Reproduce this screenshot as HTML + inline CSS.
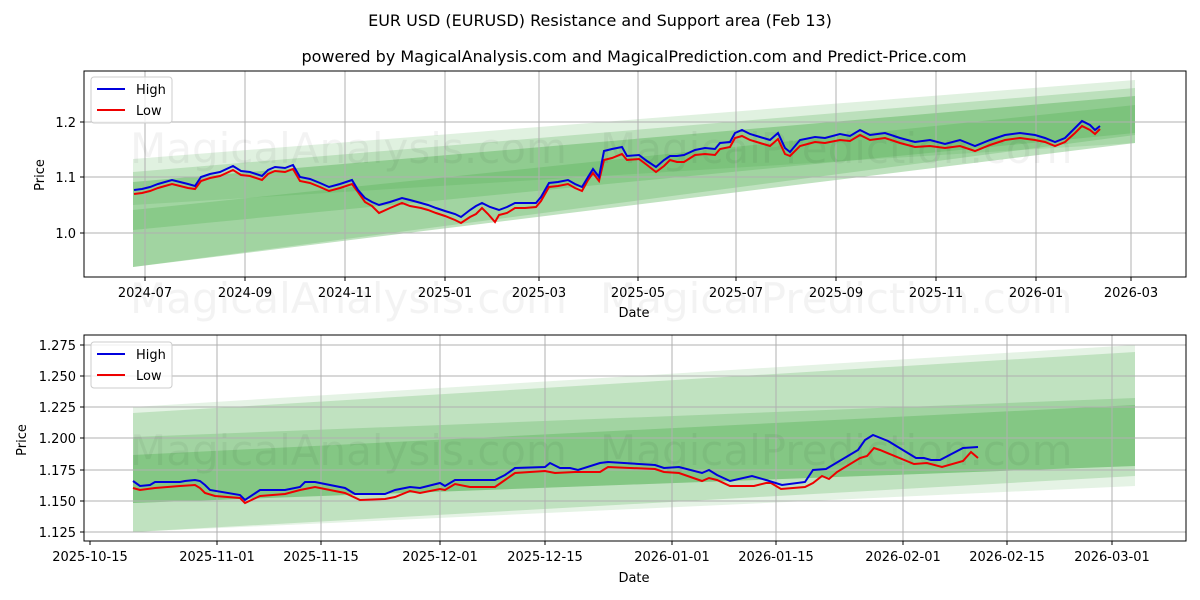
<!DOCTYPE html>
<html><head><meta charset="utf-8"><style>body{margin:0;background:#fff}svg{display:block}text{font-family:"DejaVu Sans","Liberation Sans",sans-serif}</style></head><body>
<svg width="1200" height="600" xmlns="http://www.w3.org/2000/svg">
<rect width="1200" height="600" fill="#fff"/>
<text x="600" y="26" font-size="16" text-anchor="middle">EUR USD (EURUSD) Resistance and Support area (Feb 13)</text>
<text x="634" y="62" font-size="16" text-anchor="middle">powered by MagicalAnalysis.com and MagicalPrediction.com and Predict-Price.com</text>

<!-- TOP CHART -->
<g>
<polygon points="133,159 1135,80 1135,143 133,205" fill="#2ca02c" opacity="0.15"/>
<polygon points="133,172 1135,88 1135,133 133,230" fill="#2ca02c" opacity="0.2"/>
<polygon points="133,182 1135,96 1135,143 133,267" fill="#2ca02c" opacity="0.3"/>
<polygon points="133,210 1135,105 1135,135 133,267" fill="#2ca02c" opacity="0.2"/>
<g stroke="#b0b0b0" stroke-width="1">
<line x1="145" y1="71" x2="145" y2="277"/><line x1="245" y1="71" x2="245" y2="277"/><line x1="345" y1="71" x2="345" y2="277"/><line x1="445" y1="71" x2="445" y2="277"/><line x1="539" y1="71" x2="539" y2="277"/><line x1="638" y1="71" x2="638" y2="277"/><line x1="736" y1="71" x2="736" y2="277"/><line x1="836" y1="71" x2="836" y2="277"/><line x1="936" y1="71" x2="936" y2="277"/><line x1="1036" y1="71" x2="1036" y2="277"/><line x1="1131" y1="71" x2="1131" y2="277"/>
<line x1="84" y1="122" x2="1186" y2="122"/><line x1="84" y1="177" x2="1186" y2="177"/><line x1="84" y1="233" x2="1186" y2="233"/>
</g>
<text x="130" y="163" font-size="42" fill="#000" opacity="0.045">MagicalAnalysis.com</text>
<text x="600" y="163" font-size="42" fill="#000" opacity="0.045">MagicalPrediction.com</text>
<text x="130" y="313" font-size="42" fill="#000" opacity="0.045">MagicalAnalysis.com</text>
<text x="600" y="313" font-size="42" fill="#000" opacity="0.045">MagicalPrediction.com</text>
<polyline fill="none" stroke="#e00" stroke-width="2" points="134,194 142,193 150,191 158,188 165,186 172,184 180,186 188,188 195,189 201,181 210,178 220,176 233,170 241,175 250,176 262,180 268,174 275,171 285,172 293,169 300,181 310,183 320,187 329,191 340,188 352,184 358,192 365,202 372,206 379,213 390,208 402,203 410,206 421,208 428,210 436,213 445,216 455,220 461,223 470,217 476,214 482,208 488,214 495,222 499,215 507,213 515,208 525,208 536,207 541,201 549,187 558,186 568,184 575,188 582,191 588,180 593,173 599,181 604,160 612,158 622,154 627,160 639,159 647,165 656,172 664,166 670,160 677,162 684,162 695,155 705,154 715,155 720,149 730,147 735,138 742,136 750,140 760,143 770,146 778,139 785,154 790,156 800,146 815,142 825,143 840,140 850,141 860,135 870,140 885,138 900,143 915,147 930,146 945,148 960,146 975,151 990,145 1005,140 1020,138 1035,140 1045,142 1055,146 1065,142 1075,133 1082,126 1090,130 1095,134 1100,129"/>
<polyline fill="none" stroke="#0000dd" stroke-width="2" points="134,190 142,189 150,187 158,184 165,182 172,180 180,182 188,184 195,186 201,177 210,174 220,172 233,166 241,171 250,172 262,176 268,170 275,167 285,168 293,165 300,177 310,179 320,183 329,187 340,184 352,180 358,190 365,198 372,202 379,205 390,202 402,198 410,200 421,203 428,205 436,208 445,211 455,214 461,217 470,210 476,206 482,203 490,207 499,210 507,207 515,203 525,203 536,203 541,197 549,183 558,182 568,180 575,184 582,187 588,177 593,169 599,177 604,151 612,149 622,147 627,156 639,155 647,161 656,167 664,160 670,156 677,156 684,155 695,150 705,148 715,149 720,143 730,142 735,133 742,130 750,134 760,137 770,140 778,133 785,148 790,152 800,140 815,137 825,138 840,134 850,136 860,130 870,135 885,133 900,138 915,142 930,140 945,144 960,140 975,146 990,140 1005,135 1020,133 1035,135 1045,138 1055,142 1065,138 1075,128 1082,121 1090,125 1095,130 1100,126"/>
<rect x="84" y="71" width="1102" height="206" fill="none" stroke="#000" stroke-width="1"/>
<g stroke="#000"><line x1="145" y1="277" x2="145" y2="281"/><line x1="245" y1="277" x2="245" y2="281"/><line x1="345" y1="277" x2="345" y2="281"/><line x1="445" y1="277" x2="445" y2="281"/><line x1="539" y1="277" x2="539" y2="281"/><line x1="638" y1="277" x2="638" y2="281"/><line x1="736" y1="277" x2="736" y2="281"/><line x1="836" y1="277" x2="836" y2="281"/><line x1="936" y1="277" x2="936" y2="281"/><line x1="1036" y1="277" x2="1036" y2="281"/><line x1="1131" y1="277" x2="1131" y2="281"/><line x1="80" y1="122" x2="84" y2="122"/><line x1="80" y1="177" x2="84" y2="177"/><line x1="80" y1="233" x2="84" y2="233"/></g>
<g font-size="13" text-anchor="middle"><text x="145" y="297">2024-07</text><text x="245" y="297">2024-09</text><text x="345" y="297">2024-11</text><text x="445" y="297">2025-01</text><text x="539" y="297">2025-03</text><text x="638" y="297">2025-05</text><text x="736" y="297">2025-07</text><text x="836" y="297">2025-09</text><text x="936" y="297">2025-11</text><text x="1036" y="297">2026-01</text><text x="1131" y="297">2026-03</text></g>
<g font-size="13" text-anchor="end"><text x="76" y="127">1.2</text><text x="76" y="182">1.1</text><text x="76" y="238">1.0</text></g>
<text x="634" y="317" font-size="13" text-anchor="middle">Date</text>
<text x="44" y="175" font-size="13" text-anchor="middle" transform="rotate(-90 44 175)">Price</text>
<rect x="91" y="77" width="81" height="46" rx="3" fill="#fff" fill-opacity="0.8" stroke="#ccc"/>
<line x1="97" y1="89" x2="125" y2="89" stroke="#0000dd" stroke-width="2"/><text x="136" y="94" font-size="13">High</text>
<line x1="97" y1="110" x2="125" y2="110" stroke="#e00" stroke-width="2"/><text x="136" y="115" font-size="13">Low</text>
</g>

<!-- BOTTOM CHART -->
<g>
<polygon points="133,407 1135,345 1135,486 133,532" fill="#2ca02c" opacity="0.12"/>
<polygon points="133,413 1135,352 1135,476 133,532" fill="#2ca02c" opacity="0.2"/>
<polygon points="133,437 1135,398 1135,466 133,503" fill="#2ca02c" opacity="0.2"/>
<polygon points="133,455 1135,405 1135,466 133,503" fill="#2ca02c" opacity="0.25"/>
<g stroke="#b0b0b0" stroke-width="1">
<line x1="217" y1="335" x2="217" y2="541"/><line x1="321" y1="335" x2="321" y2="541"/><line x1="440" y1="335" x2="440" y2="541"/><line x1="545" y1="335" x2="545" y2="541"/><line x1="672" y1="335" x2="672" y2="541"/><line x1="776" y1="335" x2="776" y2="541"/><line x1="903" y1="335" x2="903" y2="541"/><line x1="1007" y1="335" x2="1007" y2="541"/><line x1="1112" y1="335" x2="1112" y2="541"/>
<line x1="84" y1="345" x2="1186" y2="345"/><line x1="84" y1="376" x2="1186" y2="376"/><line x1="84" y1="407" x2="1186" y2="407"/><line x1="84" y1="438" x2="1186" y2="438"/><line x1="84" y1="470" x2="1186" y2="470"/><line x1="84" y1="501" x2="1186" y2="501"/><line x1="84" y1="532" x2="1186" y2="532"/>
</g>
<text x="130" y="465" font-size="42" fill="#000" opacity="0.045">MagicalAnalysis.com</text>
<text x="600" y="465" font-size="42" fill="#000" opacity="0.045">MagicalPrediction.com</text>
<polyline fill="none" stroke="#e00" stroke-width="2" points="133,488 140,490 155,488 180,486 195,485 200,488 205,493 215,496 240,498 245,503 260,496 285,494 300,490 315,487 345,493 360,500 385,499 395,497 410,491 420,493 440,489 445,490 455,484 470,487 495,487 505,480 515,473 545,471 555,473 575,472 600,472 608,467 655,469 664,472 679,473 702,481 709,478 717,480 730,486 754,486 766,483 771,483 781,489 805,487 813,483 822,476 829,479 837,472 860,458 867,456 874,448 880,450 914,464 927,463 942,467 963,461 971,452 978,458"/>
<polyline fill="none" stroke="#0000dd" stroke-width="2" points="133,481 140,486 150,485 155,482 180,482 185,481 195,480 200,481 205,485 210,490 240,495 245,500 260,490 285,490 300,487 305,482 315,482 345,488 355,494 385,494 395,490 410,487 420,488 440,483 445,486 455,480 495,480 505,475 515,468 545,467 550,463 560,468 570,468 578,470 600,463 608,462 655,465 664,468 679,467 702,473 709,470 717,475 730,481 752,476 766,480 782,485 805,482 813,470 826,469 858,450 865,440 873,435 888,441 916,458 924,458 931,460 940,460 963,448 978,447"/>
<rect x="84" y="335" width="1102" height="206" fill="none" stroke="#000" stroke-width="1"/>
<g stroke="#000"><line x1="90" y1="541" x2="90" y2="545"/><line x1="217" y1="541" x2="217" y2="545"/><line x1="321" y1="541" x2="321" y2="545"/><line x1="440" y1="541" x2="440" y2="545"/><line x1="545" y1="541" x2="545" y2="545"/><line x1="672" y1="541" x2="672" y2="545"/><line x1="776" y1="541" x2="776" y2="545"/><line x1="903" y1="541" x2="903" y2="545"/><line x1="1007" y1="541" x2="1007" y2="545"/><line x1="1112" y1="541" x2="1112" y2="545"/>
<line x1="80" y1="345" x2="84" y2="345"/><line x1="80" y1="376" x2="84" y2="376"/><line x1="80" y1="407" x2="84" y2="407"/><line x1="80" y1="438" x2="84" y2="438"/><line x1="80" y1="470" x2="84" y2="470"/><line x1="80" y1="501" x2="84" y2="501"/><line x1="80" y1="532" x2="84" y2="532"/></g>
<g font-size="13" text-anchor="middle"><text x="90" y="561">2025-10-15</text><text x="217" y="561">2025-11-01</text><text x="321" y="561">2025-11-15</text><text x="440" y="561">2025-12-01</text><text x="545" y="561">2025-12-15</text><text x="672" y="561">2026-01-01</text><text x="776" y="561">2026-01-15</text><text x="903" y="561">2026-02-01</text><text x="1007" y="561">2026-02-15</text><text x="1112" y="561">2026-03-01</text></g>
<g font-size="13" text-anchor="end"><text x="76" y="350">1.275</text><text x="76" y="381">1.250</text><text x="76" y="412">1.225</text><text x="76" y="443">1.200</text><text x="76" y="475">1.175</text><text x="76" y="506">1.150</text><text x="76" y="537">1.125</text></g>
<text x="634" y="582" font-size="13" text-anchor="middle">Date</text>
<text x="26" y="440" font-size="13" text-anchor="middle" transform="rotate(-90 26 440)">Price</text>
<rect x="91" y="342" width="81" height="46" rx="3" fill="#fff" fill-opacity="0.8" stroke="#ccc"/>
<line x1="97" y1="354" x2="125" y2="354" stroke="#0000dd" stroke-width="2"/><text x="136" y="359" font-size="13">High</text>
<line x1="97" y1="375" x2="125" y2="375" stroke="#e00" stroke-width="2"/><text x="136" y="380" font-size="13">Low</text>
</g>
</svg>
</body></html>
